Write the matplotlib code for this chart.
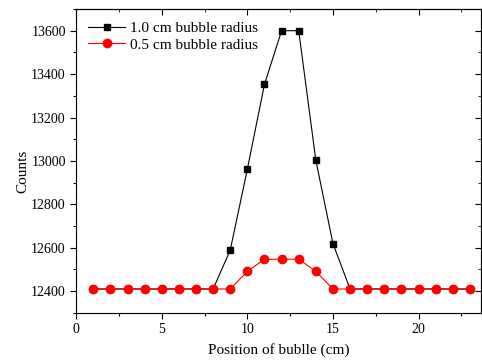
import numpy as np
import matplotlib
matplotlib.use('Agg')
import matplotlib.pyplot as plt
from matplotlib.ticker import MultipleLocator

plt.rcParams['font.family'] = ['Liberation Serif', 'DejaVu Serif']

# данные
pos = np.arange(1, 24)
counts_10 = [12410, 12410, 12410, 12410, 12410, 12410, 12410, 12410,
             12589, 12962, 13353, 13600, 13600, 13003, 12619,
             12410, 12410, 12410, 12410, 12410, 12410, 12410, 12410]
counts_05 = [12410, 12410, 12410, 12410, 12410, 12410, 12410, 12410, 12410,
             12491, 12547, 12547, 12547, 12491,
             12410, 12410, 12410, 12410, 12410, 12410, 12410, 12410, 12410]

fig = plt.figure(figsize=(4.82, 3.6), dpi=100)
ax = fig.add_axes([0.158, 0.131, 0.84, 0.844])

ax.plot(pos, counts_10, 's-', color='black', lw=0.8, ms=5,
        label='1.0 cm bubble radius')
ax.plot(pos, counts_05, 'o-', color='red', lw=0.8, ms=6,
        label='0.5 cm bubble radius')

ax.set_xlim(0, 23.65)
ax.set_ylim(12300, 13700)
ax.xaxis.set_major_locator(MultipleLocator(5))
ax.xaxis.set_minor_locator(MultipleLocator(2.5))
ax.yaxis.set_major_locator(MultipleLocator(200))
ax.yaxis.set_minor_locator(MultipleLocator(100))
ax.tick_params(which='major', direction='out', length=4, width=0.8, labelsize=10)
ax.tick_params(which='minor', direction='out', length=2.5, width=0.8)

# зеркальные тики сверху и справа (внутрь)
top = ax.secondary_xaxis('top')
top.xaxis.set_major_locator(MultipleLocator(5))
top.xaxis.set_minor_locator(MultipleLocator(2.5))
top.tick_params(which='both', direction='in', labeltop=False)
top.tick_params(which='major', length=4)
top.tick_params(which='minor', length=2.5)
right = ax.secondary_yaxis('right')
right.yaxis.set_major_locator(MultipleLocator(200))
right.yaxis.set_minor_locator(MultipleLocator(100))
right.tick_params(which='both', direction='in', labelright=False)
right.tick_params(which='major', length=4)
right.tick_params(which='minor', length=2.5)

ax.set_xlabel('Position of bublle (cm)', fontsize=11, labelpad=5)
ax.set_ylabel('Counts', fontsize=11)
ax.yaxis.set_label_coords(-0.115, 0.465)
ax.legend(loc='upper left', frameon=False, fontsize=11, handlelength=2.4,
          borderaxespad=0.5, labelspacing=0.2, handletextpad=0.3,
          borderpad=0.3)

plt.savefig('out.png', dpi=100)
